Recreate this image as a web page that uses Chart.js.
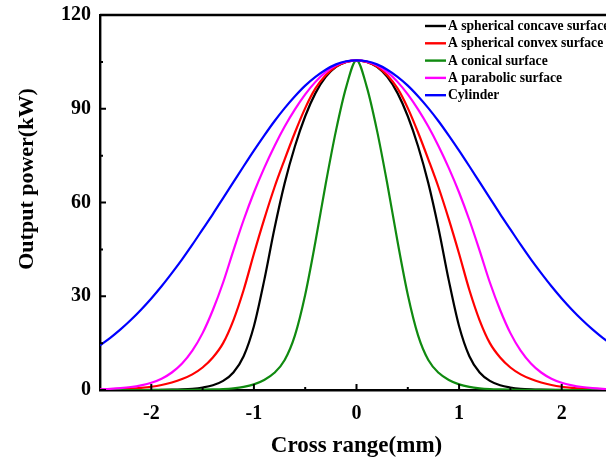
<!DOCTYPE html>
<html>
<head>
<meta charset="utf-8">
<script src="https://cdn.jsdelivr.net/npm/chart.js@4.4.1/dist/chart.umd.min.js"></script>
<style>
  html, body { margin: 0; padding: 0; background: #fff; overflow: hidden; }
  #wrap { width: 620px; height: 463px; }
</style>
</head>
<body>
<div id="wrap"><canvas id="chart" width="620" height="463"></canvas></div>
<script>
// valores (x en mm, potencia en kW)
const crossRange = [-2.5, -2.4, -2.3, -2.2, -2.1, -2.0, -1.9, -1.8, -1.7, -1.6, -1.5, -1.4, -1.3, -1.2, -1.1, -1.0, -0.9, -0.8, -0.7, -0.6, -0.5, -0.4, -0.3, -0.2, -0.1,
  0, 0.1, 0.2, 0.3, 0.4, 0.5, 0.6, 0.7, 0.8, 0.9, 1.0, 1.1, 1.2, 1.3, 1.4, 1.5, 1.6, 1.7, 1.8, 1.9, 2.0, 2.1, 2.2, 2.3, 2.4, 2.5];

const concave = [0, 0, 0, 0, 0, 0.02, 0.05, 0.1, 0.2, 0.4, 0.8, 1.5, 2.9, 5.6, 10.8, 20.4, 35.0, 51.6, 66.2, 78.0, 87.6, 95.0, 100.2, 103.4, 105.0,
  105.5, 105.0, 103.4, 100.2, 95.0, 87.6, 78.0, 66.2, 51.6, 35.0, 20.4, 10.8, 5.6, 2.9, 1.5, 0.8, 0.4, 0.2, 0.1, 0.05, 0.02, 0, 0, 0, 0, 0];

const convex = [0.12, 0.2, 0.3, 0.45, 0.7, 1.05, 1.6, 2.4, 3.5, 5.0, 7.2, 10.4, 15.0, 22.3, 32.0, 43.6, 54.6, 64.8, 73.8, 82.4, 90.2, 96.5, 100.7, 103.5, 105.0,
  105.5, 105.0, 103.5, 100.7, 96.5, 90.2, 82.4, 73.8, 64.8, 54.6, 43.6, 32.0, 22.3, 15.0, 10.4, 7.2, 5.0, 3.5, 2.4, 1.6, 1.05, 0.7, 0.45, 0.3, 0.2, 0.12];

const conical = [0, 0, 0, 0, 0, 0, 0.01, 0.02, 0.03, 0.05, 0.09, 0.17, 0.3, 0.55, 1.0, 1.8, 3.2, 5.5, 9.6, 17.5, 30.5, 47.5, 66.0, 83.0, 97.0,
  105.5, 97.0, 83.0, 66.0, 47.5, 30.5, 17.5, 9.6, 5.5, 3.2, 1.8, 1.0, 0.55, 0.3, 0.17, 0.09, 0.05, 0.03, 0.02, 0.01, 0, 0, 0, 0, 0, 0];

const parabolic = [0.24, 0.38, 0.6, 0.95, 1.5, 2.3, 3.6, 5.6, 8.5, 12.6, 18.2, 25.6, 34.4, 44.6, 54.4, 63.2, 71.0, 78.0, 84.3, 89.8, 94.6, 98.6, 101.7, 103.9, 105.1,
  105.5, 105.1, 103.9, 101.7, 98.6, 94.6, 89.8, 84.3, 78.0, 71.0, 63.2, 54.4, 44.6, 34.4, 25.6, 18.2, 12.6, 8.5, 5.6, 3.6, 2.3, 1.5, 0.95, 0.6, 0.38, 0.24];

const cylinder = [14.3, 16.7, 19.4, 22.4, 25.7, 29.3, 33.2, 37.4, 41.8, 46.5, 51.4, 56.3, 61.4, 66.5, 71.6, 76.6, 81.4, 86.0, 90.2, 94.0, 97.4, 100.2, 102.5, 104.2, 105.2,
  105.5, 105.2, 104.2, 102.5, 100.2, 97.4, 94.0, 90.2, 86.0, 81.4, 76.6, 71.6, 66.5, 61.4, 56.3, 51.4, 46.5, 41.8, 37.4, 33.2, 29.3, 25.7, 22.4, 19.4, 16.7, 14.3];

const seriesNames = ["A spherical concave surface", "A spherical convex surface", "A conical surface", "A parabolic surface", "Cylinder"];
const seriesColors = ["#000000", "#ff0000", "#108a10", "#ff00ff", "#0000ff"];

const yTicks = [0, 30, 60, 90, 120];
const yMinor = [15, 45, 75, 105];
const xTicks = [-2, -1, 0, 1, 2];
const xMinor = [-1.5, -0.5, 0.5, 1.5];

const FONT = "'Liberation Serif', 'Times New Roman', serif";

function pts(vals) {
  return crossRange.map((x, i) => ({ x: x, y: vals[i] }));
}

const allSeries = [concave, convex, conical, parabolic, cylinder];
const datasets = allSeries.map((vals, i) => ({
  label: seriesNames[i],
  data: pts(vals),
  borderColor: seriesColors[i],
  backgroundColor: seriesColors[i],
  borderWidth: 2.2,
  pointRadius: 0,
  cubicInterpolationMode: 'monotone',
  order: 5 - i
}));

// ticks hacia dentro, marco, leyenda y titulo del eje y
const extras = {
  id: 'extras',
  afterDraw(chart) {
    const ctx = chart.ctx;
    const a = chart.chartArea;
    const xs = chart.scales.x, ys = chart.scales.y;
    ctx.save();
    ctx.strokeStyle = '#000';
    ctx.lineWidth = 2;
    ctx.beginPath();
    yTicks.forEach(v => { const p = ys.getPixelForValue(v); ctx.moveTo(a.left, p); ctx.lineTo(a.left + 6, p); });
    yMinor.forEach(v => { const p = ys.getPixelForValue(v); ctx.moveTo(a.left, p); ctx.lineTo(a.left + 3, p); });
    xTicks.forEach(v => { const p = xs.getPixelForValue(v); ctx.moveTo(p, a.bottom); ctx.lineTo(p, a.bottom - 6); });
    xMinor.forEach(v => { const p = xs.getPixelForValue(v); ctx.moveTo(p, a.bottom); ctx.lineTo(p, a.bottom - 3); });
    ctx.stroke();
    ctx.lineWidth = 2.4;
    ctx.beginPath();
    ctx.moveTo(a.left, a.top); ctx.lineTo(a.right, a.top); ctx.lineTo(a.right, a.bottom);
    ctx.stroke();

    // leyenda
    ctx.font = 'bold 13.6px ' + FONT;
    ctx.textBaseline = 'middle';
    ctx.textAlign = 'left';
    chart.data.datasets.forEach((ds, i) => {
      const y = 26 + i * 17.3;
      ctx.strokeStyle = ds.borderColor;
      ctx.lineWidth = 2.4;
      ctx.beginPath();
      ctx.moveTo(425, y); ctx.lineTo(446, y);
      ctx.stroke();
      ctx.fillStyle = '#000';
      ctx.fillText(ds.label, 448, y + 0.5);
    });

    // titulo eje y
    ctx.translate(27, 179);
    ctx.rotate(-Math.PI / 2);
    ctx.font = 'bold 22px ' + FONT;
    ctx.textAlign = 'center';
    ctx.fillStyle = '#000';
    ctx.fillText('Output power(kW)', 0, 0);
    ctx.restore();
  }
};

new Chart(document.getElementById('chart'), {
  type: 'line',
  data: { datasets: datasets },
  plugins: [extras],
  options: {
    responsive: false,
    animation: false,
    layout: { padding: { left: 0, top: 15, right: 7, bottom: 0 } },
    plugins: { legend: { display: false }, tooltip: { enabled: false } },
    scales: {
      x: {
        type: 'linear',
        min: -2.5,
        max: 2.5,
        afterBuildTicks: s => { s.ticks = xTicks.map(v => ({ value: v })); },
        afterFit: s => { s.height = 73; s.paddingLeft = 0; s.paddingRight = 0; },
        grid: { display: false, drawTicks: false },
        border: { display: true, color: '#000', width: 2.4 },
        ticks: { color: '#000', padding: 12, font: { family: FONT, size: 20, weight: 'bold' }, maxRotation: 0 },
        title: { display: true, text: 'Cross range(mm)', color: '#000', font: { family: FONT, size: 23, weight: 'bold' }, padding: { top: 0, bottom: 3 } }
      },
      y: {
        min: 0,
        max: 120,
        afterBuildTicks: s => { s.ticks = yTicks.map(v => ({ value: v })); },
        afterFit: s => { s.width = 100; s.paddingTop = 0; s.paddingBottom = 0; },
        grid: { display: false, drawTicks: false },
        border: { display: true, color: '#000', width: 2.4 },
        ticks: { color: '#000', padding: 9, font: { family: FONT, size: 20, weight: 'bold' } }
      }
    }
  }
});
</script>
</body>
</html>
